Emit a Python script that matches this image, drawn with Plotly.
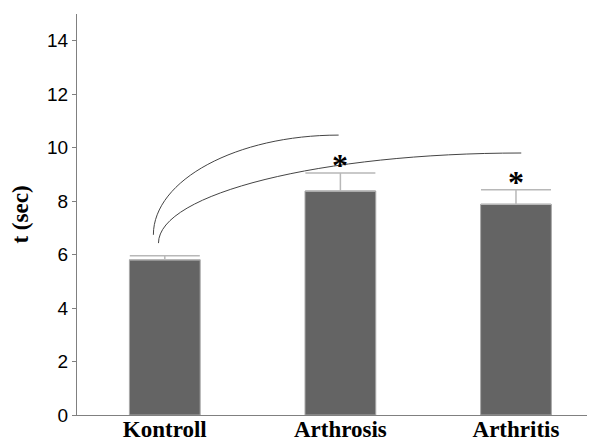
import plotly.graph_objects as go

categories = ["Kontroll", "Arthrosis", "Arthritis"]
means = [5.81, 8.38, 7.88]
upper = [5.96, 9.05, 8.43]
stars = ["", "*", "*"]
y_ticks = [0, 2, 4, 6, 8, 10, 12, 14]
# significance arcs: (start x, start y, end x, end y) in data units
arcs = [(-0.065, 6.74, 0.99, 10.47), (-0.036, 6.43, 2.03, 9.80)]

err_plus = [u - m for u, m in zip(upper, means)]
xpos = list(range(len(categories)))

fig = go.Figure()
fig.add_trace(go.Bar(
    x=xpos, y=means, width=0.403,
    marker=dict(color="#646464", line=dict(color="#a8a8a8", width=1)),
    error_y=dict(type="data", array=err_plus, arrayminus=[0]*3, symmetric=False,
                 color="#b8b8b8", thickness=1.5, width=35),
))

for x0, y0, x1, y1 in arcs:
    k = 0.55
    path = (f"M {x0},{y0} C {x0},{y0 + k*(y1-y0)} {x1 - k*(x1-x0)},{y1} {x1},{y1}")
    fig.add_shape(type="path", path=path, xref="x", yref="y",
                  line=dict(color="#444444", width=1))

for i, s in enumerate(stars):
    if s:
        fig.add_annotation(x=xpos[i], y=upper[i], text=s, showarrow=False,
                           yanchor="bottom", yshift=-12,
                           font=dict(family="Liberation Serif", size=32, color="black", weight="bold"))

fig.update_layout(
    width=595, height=443,
    margin=dict(l=69, r=8, t=6, b=36),
    plot_bgcolor="white", paper_bgcolor="white",
    showlegend=False,
    xaxis=dict(range=[-0.5, 2.45], tickvals=xpos, ticktext=categories, automargin=False,
               showline=True, linecolor="#808080", linewidth=1.2,
               showgrid=False, zeroline=False, ticks="", ticklabelstandoff=-7,
               tickfont=dict(family="Liberation Serif", size=23, color="black", weight="bold")),
    yaxis=dict(range=[0, 15], tickvals=y_ticks, automargin=False,
               showline=True, linecolor="#808080", linewidth=1.2,
               showgrid=False, zeroline=False, ticks="outside", ticklen=4, tickcolor="#808080",
               tickfont=dict(family="Liberation Sans", size=19, color="black"),
               title=dict(text="t (sec)", standoff=15,
                          font=dict(family="Liberation Serif", size=23, color="black", weight="bold"))),
)

fig.write_html("out.html")
